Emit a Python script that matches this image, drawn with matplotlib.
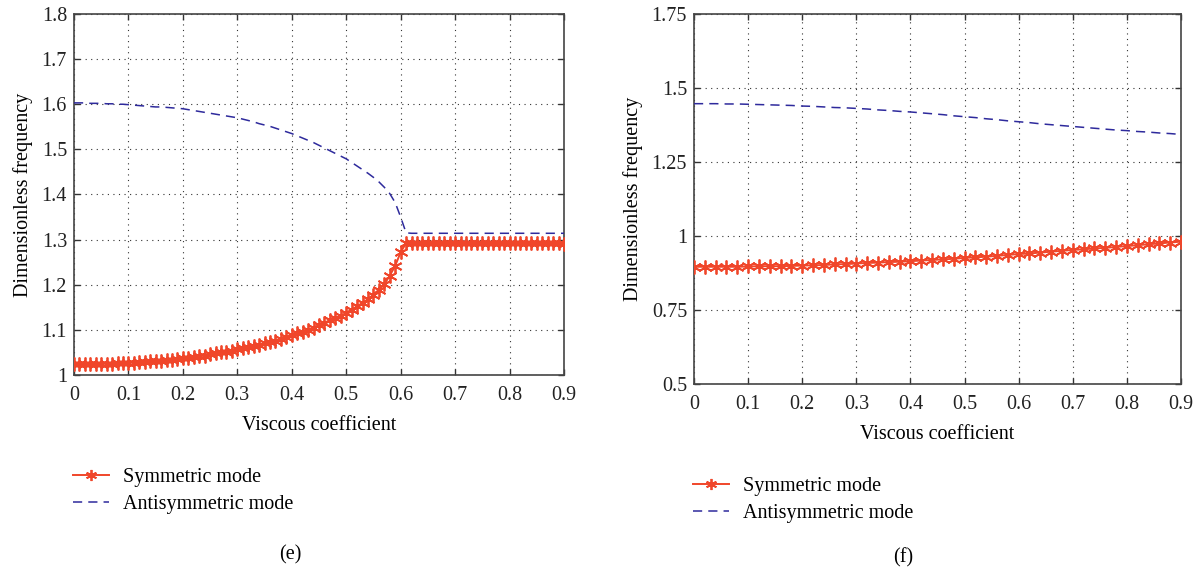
import numpy as np
import matplotlib.pyplot as plt

plt.rcParams["font.family"] = ["Liberation Serif", "DejaVu Serif"]
plt.rcParams["font.size"] = 14.5

# panel (e): viscous coefficient 0 .. 0.9 step 0.01
visc_e = np.round(np.arange(0, 0.901, 0.01), 2)
sym_e = [
    1.024, 1.024, 1.024, 1.024, 1.024, 1.024, 1.025, 1.025, 1.026, 1.026,
    1.027, 1.027, 1.028, 1.029, 1.030, 1.031, 1.032, 1.033, 1.034, 1.035,
    1.037, 1.038, 1.040, 1.041, 1.043, 1.046, 1.048, 1.050, 1.052, 1.054,
    1.057, 1.059, 1.061, 1.064, 1.067, 1.070, 1.073, 1.076, 1.080, 1.084,
    1.088, 1.092, 1.096, 1.100, 1.105, 1.111, 1.116, 1.121, 1.126, 1.131,
    1.138, 1.145, 1.152, 1.160, 1.168, 1.178, 1.189, 1.201, 1.220, 1.242,
    1.272, 1.292, 1.292, 1.292, 1.292, 1.292, 1.292, 1.292, 1.292, 1.292,
    1.292, 1.292, 1.292, 1.292, 1.292, 1.292, 1.292, 1.292, 1.292, 1.292,
    1.292, 1.292, 1.292, 1.292, 1.292, 1.292, 1.292, 1.292, 1.292, 1.292,
    1.291,
]
anti_e = [
    1.603, 1.603, 1.603, 1.602, 1.602, 1.602, 1.601, 1.601, 1.600, 1.600,
    1.599, 1.598, 1.597, 1.596, 1.595, 1.594, 1.594, 1.593, 1.592, 1.591,
    1.590, 1.588, 1.586, 1.584, 1.582, 1.580, 1.578, 1.576, 1.574, 1.572,
    1.570, 1.567, 1.564, 1.561, 1.557, 1.554, 1.551, 1.547, 1.543, 1.539,
    1.535, 1.530, 1.525, 1.520, 1.515, 1.509, 1.503, 1.497, 1.491, 1.485,
    1.479, 1.471, 1.463, 1.455, 1.447, 1.438, 1.428, 1.416, 1.402, 1.382,
    1.350, 1.315, 1.314, 1.314, 1.314, 1.314, 1.314, 1.314, 1.314, 1.314,
    1.314, 1.314, 1.314, 1.314, 1.314, 1.314, 1.314, 1.314, 1.314, 1.314,
    1.314, 1.314, 1.314, 1.314, 1.314, 1.314, 1.314, 1.314, 1.314, 1.314,
    1.314,
]

# panel (f): viscous coefficient 0 .. 0.9 step 0.02
visc_f = np.round(np.arange(0, 0.901, 0.02), 2)
sym_f = [
    0.896, 0.896, 0.896, 0.896, 0.896, 0.897, 0.898, 0.898, 0.898, 0.899,
    0.900, 0.901, 0.902, 0.904, 0.905, 0.907, 0.909, 0.910, 0.912, 0.913,
    0.915, 0.917, 0.919, 0.921, 0.923, 0.926, 0.928, 0.930, 0.933, 0.936,
    0.939, 0.941, 0.944, 0.947, 0.950, 0.953, 0.955, 0.958, 0.960, 0.963,
    0.966, 0.969, 0.972, 0.975, 0.978, 0.981,
]
anti_f = [
    1.447, 1.447, 1.447, 1.446, 1.446, 1.445, 1.444, 1.443, 1.442, 1.441,
    1.439, 1.438, 1.436, 1.434, 1.433, 1.431, 1.429, 1.426, 1.424, 1.421,
    1.419, 1.416, 1.413, 1.410, 1.406, 1.403, 1.400, 1.396, 1.393, 1.389,
    1.386, 1.383, 1.379, 1.376, 1.373, 1.370, 1.367, 1.364, 1.361, 1.358,
    1.356, 1.353, 1.351, 1.348, 1.346, 1.343,
]

red = "#f0462a"
blue = "#2e2a9c"
star = (6, 2, 0)

fig = plt.figure(figsize=(12.03, 5.71), dpi=100)
ax_e = fig.add_axes([0.0615, 0.3433, 0.4073, 0.6322])
ax_f = fig.add_axes([0.5769, 0.3275, 0.4048, 0.648])


def style(ax, yticks, ylabels):
    ax.set_xlim(0, 0.9)
    ax.set_xticks(np.round(np.arange(0, 0.91, 0.1), 1))
    ax.set_xticklabels(["0"] + [f"{v:.1f}" for v in np.arange(0.1, 0.91, 0.1)])
    ax.set_ylim(yticks[0], yticks[-1])
    ax.set_yticks(yticks)
    ax.set_yticklabels(ylabels)
    ax.grid(True, linestyle=(0, (1, 4)), color="#333333", linewidth=0.8)
    ax.tick_params(direction="in", length=4, width=1, top=True, right=True,
                   colors="#333333", labelcolor="#222222", labelsize=14.5, pad=5)
    ax.tick_params(axis="x", pad=8)
    for sp in ax.spines.values():
        sp.set_color("#444444")
        sp.set_linewidth(1.2)
    ax.set_xlabel("Viscous coefficient", fontsize=14.5, labelpad=8)
    ax.set_ylabel("Dimensionless frequency", fontsize=14.5, labelpad=6)


ax_e.plot(visc_e, sym_e, color=red, marker=star, markersize=10, markeredgewidth=1.3,
          linewidth=1.4, label="Symmetric mode", zorder=3)
ax_e.plot(visc_e, anti_e, color=blue, linestyle=(0, (6, 4)), linewidth=1.1,
          label="Antisymmetric mode", zorder=3)
style(ax_e, [1.0, 1.1, 1.2, 1.3, 1.4, 1.5, 1.6, 1.7, 1.8],
      ["1", "1.1", "1.2", "1.3", "1.4", "1.5", "1.6", "1.7", "1.8"])

ax_f.plot(visc_f, sym_f, color=red, marker=star, markersize=10, markeredgewidth=1.3,
          linewidth=1.4, label="Symmetric mode", zorder=3)
ax_f.plot(visc_f, anti_f, color=blue, linestyle=(0, (6, 4)), linewidth=1.1,
          label="Antisymmetric mode", zorder=3)
style(ax_f, [0.5, 0.75, 1.0, 1.25, 1.5, 1.75],
      ["0.5", "0.75", "1", "1.25", "1.5", "1.75"])

for ax, x0, yc in [(ax_e, 0.0607, 0.140), (ax_f, 0.576, 0.1243)]:
    h, l = ax.get_legend_handles_labels()
    fig.legend(h, l, loc="center left", bbox_to_anchor=(x0, yc),
               frameon=False, fontsize=14.5, handlelength=1.8, handletextpad=0.7,
               labelspacing=0.4, borderpad=0, borderaxespad=0, markerscale=0.8)

fig.text(0.241, 0.028, "(e)", ha="center", va="center", fontsize=14.5)
fig.text(0.751, 0.023, "(f)", ha="center", va="center", fontsize=14.5)

fig.savefig("out.png", dpi=100)
